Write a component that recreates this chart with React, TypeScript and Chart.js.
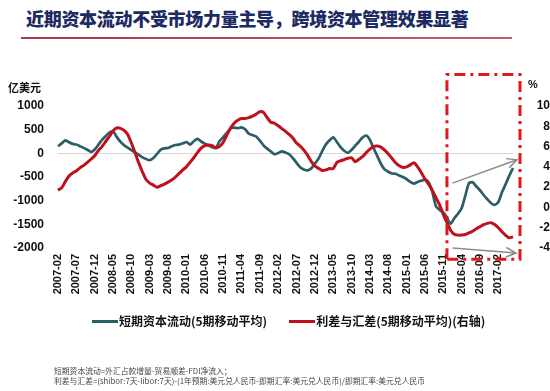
import React, { useEffect, useRef } from 'react';
import { Chart, registerables } from 'chart.js';

Chart.register(...registerables);

// ---- data ----
const startYear = 2007;
const startMonth = 2;

// 短期资本流动(5期移动平均), 亿美元 (left axis)
const shortTermFlow = [
  150, 210, 275, 235, 200, 185, 150, 115, 75, 30,
  80, 180, 285, 365, 440, 470, 348, 245, 170, 120,
  70, 20, -35, -85, -120, -145, -100, -10, 80, 105,
  113, 150, 175, 183, 210, 240, 185, 255, 305, 250,
  205, 170, 130, 110, 255, 340, 430, 525, 545, 530,
  550, 510, 415, 385, 355, 270, 170, 100, 40, -20,
  5, 43, 15, -20, -100, -200, -295, -340, -360, -320,
  -220, -113, 45, 185, 275, 340, 240, 130, 55, 10,
  70, 160, 245, 335, 375, 285, 110, -55, -220, -340,
  -390, -425, -430, -470, -500, -545, -605, -640, -605, -580,
  -555, -610, -810, -1120, -1195, -1250, -1355, -1490, -1370, -1275,
  -1160, -894, -630, -610, -700, -780, -880, -970, -1050, -1090,
  -1030, -823, -650, -470, -310,
];

// 利差与汇差(5期移动平均), % (right axis)
const spreadRate = [
  1.7, 1.93, 2.55, 3.1, 3.4, 3.6, 3.9, 4.15, 4.45, 4.75,
  5.1, 5.6, 6.0, 6.5, 7.0, 7.55, 7.83, 7.8, 7.6, 7.2,
  6.35, 5.4, 4.4, 3.5, 2.75, 2.4, 2.2, 2.0, 2.15, 2.3,
  2.5, 2.7, 3.0, 3.35, 3.7, 4.0, 4.45, 4.9, 5.4, 5.85,
  6.1, 6.15, 6.1, 5.9, 6.0, 6.4, 7.1, 7.8, 8.3, 8.6,
  8.77, 8.77, 8.85, 9.0, 9.2, 9.43, 9.37, 8.85, 8.4, 8.3,
  8.05, 7.77, 7.5, 7.2, 6.85, 6.35, 6.05, 5.65, 5.15, 4.55,
  4.1, 3.85, 3.65, 3.7, 3.83, 3.83, 4.43, 4.6, 4.72, 4.85,
  4.9, 4.5, 4.75, 5.0, 5.4, 5.75, 6.0, 6.05, 5.95, 5.65,
  5.3, 4.85, 4.4, 4.1, 3.93, 4.0, 4.2, 4.4, 4.0, 3.45,
  2.8, 2.3, 1.7, 0.95, 0.25, -0.7, -1.5, -2.25, -2.65, -2.73,
  -2.72, -2.67, -2.5, -2.35, -2.1, -1.9, -1.7, -1.57, -1.5, -1.68,
  -2.0, -2.4, -2.75, -3.0, -2.9,
];

const categories = shortTermFlow.map((_, i) => {
  const t = startMonth - 1 + i;
  const y = startYear + Math.floor(t / 12);
  const m = (t % 12) + 1;
  return `${y}-${String(m).padStart(2, '0')}`;
});

const tickLabels = [
  '2007-02', '2007-07', '2007-12', '2008-05', '2008-10', '2009-03', '2009-08',
  '2010-01', '2010-06', '2010-11', '2011-04', '2011-09', '2012-02', '2012-07',
  '2012-12', '2013-05', '2013-10', '2014-03', '2014-08', '2015-01', '2015-06',
  '2015-11', '2016-04', '2016-09', '2017-02',
];

const leftMin = -2000;
const leftMax = 1000;
const leftStep = 500;
const rightMin = -4;
const rightMax = 10;
const rightStep = 2;

const title = '近期资本流动不受市场力量主导，跨境资本管理效果显著';
const leftUnit = '亿美元';
const rightUnit = '%';
const seriesNames = ['短期资本流动(5期移动平均)', '利差与汇差(5期移动平均)(右轴)'];
const notes = [
  '短期资本流动=外汇占款增量-贸易顺差-FDI净流入；',
  '利差与汇差=(shibor:7天-libor:7天)-(1年预期:美元兑人民币-即期汇率:美元兑人民币)/即期汇率:美元兑人民币',
];

const TEAL = '#2d5d66';
const RED = '#c0101c';
const BOX_RED = '#e3161b';
const CJK = '"Noto Sans CJK SC", "Liberation Sans", sans-serif';
const NUM = '"Liberation Sans", Arial, sans-serif';

const annotationPlugin = {
  id: 'boxAndArrows',
  afterDatasetsDraw(chart: any) {
    const { ctx, chartArea, scales } = chart;
    const x = scales.x;
    const yR = scales.y1;
    const left = x.getPixelForValue(106);
    const right = chartArea.right + 7;
    const top = yR.getPixelForValue(13.1);
    const bottom = yR.getPixelForValue(-5.1);
    ctx.save();
    ctx.strokeStyle = BOX_RED;
    ctx.lineWidth = 3;
    ctx.setLineDash([11, 5, 3, 5]);
    ctx.beginPath();
    ctx.moveTo(left, bottom);
    ctx.lineTo(left, top);
    ctx.lineTo(right, top);
    ctx.lineTo(right, bottom);
    ctx.lineTo(left, bottom);
    ctx.stroke();
    ctx.setLineDash([]);

    const arrow = (x1: number, y1: number, x2: number, y2: number) => {
      ctx.strokeStyle = '#8c8c8c';
      ctx.lineWidth = 1.5;
      ctx.beginPath();
      ctx.moveTo(x1, y1);
      ctx.lineTo(x2, y2);
      const a = Math.atan2(y2 - y1, x2 - x1);
      const L = 11;
      const s = 0.45;
      ctx.moveTo(x2 - L * Math.cos(a - s), y2 - L * Math.sin(a - s));
      ctx.lineTo(x2, y2);
      ctx.lineTo(x2 - L * Math.cos(a + s), y2 - L * Math.sin(a + s));
      ctx.stroke();
    };
    const ax = x.getPixelForValue(107.5);
    arrow(ax, yR.getPixelForValue(2.4), chartArea.right + 4, yR.getPixelForValue(4.7));
    arrow(ax, yR.getPixelForValue(-4.0), chartArea.right + 3, yR.getPixelForValue(-4.5));
    ctx.restore();
  },
};

function ChartCanvas() {
  const ref = useRef<HTMLCanvasElement | null>(null);
  useEffect(() => {
    if (!ref.current) return;
    const chart = new Chart(ref.current, {
      type: 'line',
      data: {
        labels: categories,
        datasets: [
          {
            label: seriesNames[1],
            data: spreadRate,
            yAxisID: 'y1',
            borderColor: RED,
            backgroundColor: RED,
            borderWidth: 3,
            pointRadius: 0,
            tension: 0.2,
          },
          {
            label: seriesNames[0],
            data: shortTermFlow,
            yAxisID: 'y',
            borderColor: TEAL,
            backgroundColor: TEAL,
            borderWidth: 2.7,
            pointRadius: 0,
            tension: 0.2,
          },
        ],
      },
      options: {
        responsive: false,
        maintainAspectRatio: false,
        animation: false,
        layout: { padding: { left: 0, right: 0, top: 106, bottom: 83 } },
        plugins: { legend: { display: false }, tooltip: { enabled: false } },
        scales: {
          x: {
            type: 'category',
            offset: false,
            grid: { display: false, drawTicks: false },
            border: { display: false },
            afterFit(s: any) { s.height = 60; },
            ticks: {
              autoSkip: false,
              maxRotation: 90,
              minRotation: 90,
              padding: 6,
              color: '#111',
              font: { family: NUM, size: 11, weight: 'bold' },
              callback: (_v: any, i: number) => (tickLabels.includes(categories[i]) ? categories[i] : ''),
            },
          },
          y: {
            position: 'left',
            min: leftMin,
            max: leftMax,
            afterFit(s: any) { s.width = 58; },
            grid: {
              drawTicks: false,
              color: (c: any) => (c.tick && c.tick.value === 0 ? '#d6d6d6' : 'rgba(0,0,0,0)'),
              lineWidth: 1,
            },
            border: { display: false },
            ticks: {
              stepSize: leftStep,
              padding: 14,
              color: '#111',
              font: { family: NUM, size: 12, weight: 'bold' },
              callback: (v: any) => String(v),
            },
          },
          y1: {
            position: 'right',
            min: rightMin,
            max: rightMax,
            afterFit(s: any) { s.width = 37; },
            grid: { display: false, drawTicks: false },
            border: { display: false },
            ticks: {
              stepSize: rightStep,
              padding: 14,
              crossAlign: 'far',
              color: '#111',
              font: { family: NUM, size: 12, weight: 'bold' },
              callback: (v: any) => String(v),
            },
          },
        },
      } as any,
      plugins: [annotationPlugin],
    });
    return () => chart.destroy();
  }, []);
  return <canvas ref={ref} width={550} height={391} style={{ position: 'absolute', left: 0, top: 0, width: 550, height: 391 }} />;
}

export default function App() {
  return (
    <div style={{ position: 'fixed', left: 0, top: 0, width: 550, height: 391, background: '#fff', overflow: 'hidden', fontFamily: CJK }}>
      <div style={{ position: 'absolute', left: 26, top: 5, fontSize: 18, fontWeight: 900, color: '#1d2b63', letterSpacing: -0.3, lineHeight: '26px', whiteSpace: 'nowrap' }}>
        {title}
      </div>
      <div style={{ position: 'absolute', left: 21, top: 37, width: 491, height: 2, background: 'linear-gradient(90deg, #a83845, #c0606a)' }} />
      <ChartCanvas />
      <div style={{ position: 'absolute', left: 8, top: 79, fontSize: 11, fontWeight: 700, color: '#111', lineHeight: '16px' }}>{leftUnit}</div>
      <div style={{ position: 'absolute', left: 528, top: 76, fontSize: 11, fontWeight: 700, color: '#111', lineHeight: '16px', fontFamily: NUM }}>{rightUnit}</div>
      <div style={{ position: 'absolute', left: 92, top: 312, display: 'flex', alignItems: 'center', fontSize: 12, fontWeight: 700, color: '#111', lineHeight: '18px', whiteSpace: 'nowrap' }}>
        <span style={{ display: 'inline-block', width: 26, height: 3, background: TEAL, marginRight: 1 }} />
        <span>{seriesNames[0]}</span>
        <span style={{ display: 'inline-block', width: 26, height: 3, background: RED, marginLeft: 22, marginRight: 1 }} />
        <span>{seriesNames[1]}</span>
      </div>
      <div style={{ position: 'absolute', left: 54, top: 366, fontSize: 7.8, color: '#444', lineHeight: '10px', whiteSpace: 'nowrap' }}>
        <div>{notes[0]}</div>
        <div>{notes[1]}</div>
      </div>
    </div>
  );
}
